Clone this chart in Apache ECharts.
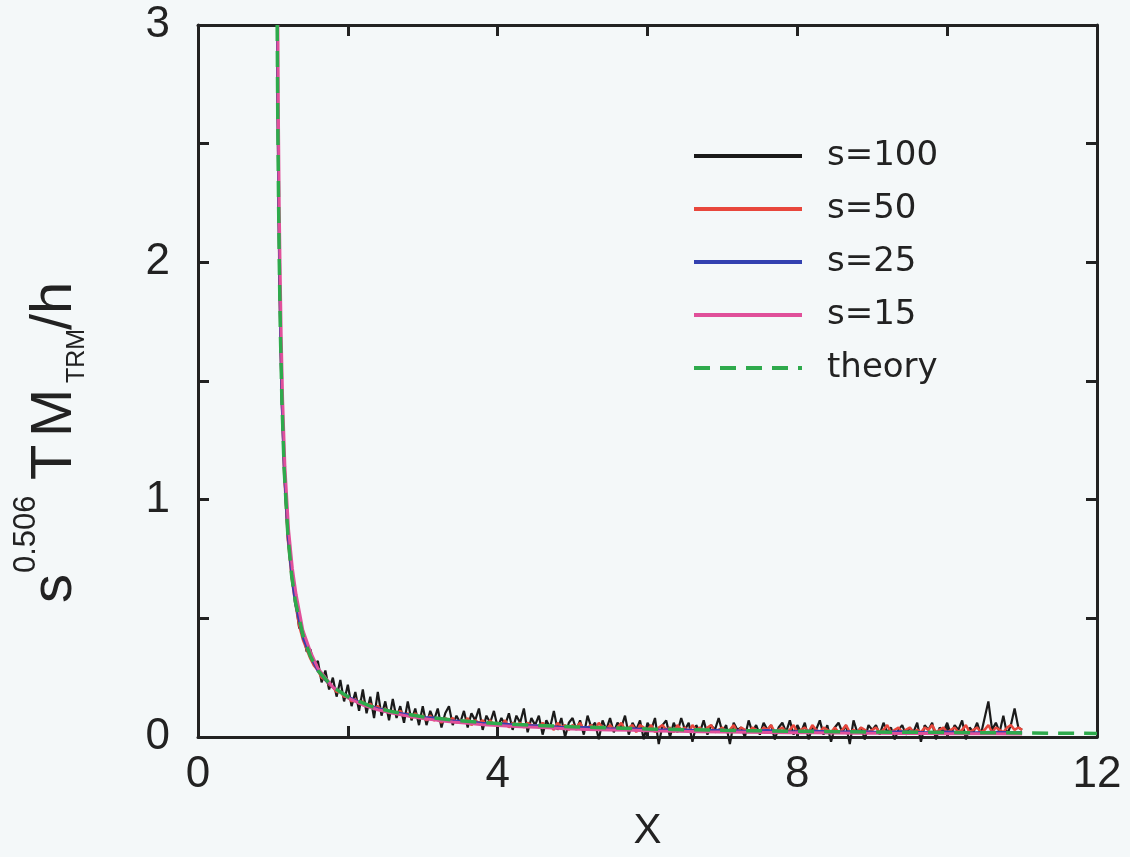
<!DOCTYPE html>
<html>
<head>
<meta charset="utf-8">
<script src="https://cdn.jsdelivr.net/npm/echarts@6/dist/echarts.min.js"></script>
<style>
html,body{margin:0;padding:0;background:#f4f8f9;}
#c{width:1130px;height:857px;}
</style>
</head>
<body>
<div id="c"></div>
<script>
// ---- data ----
const seriesNames = ['s=100', 's=50', 's=25', 's=15', 'theory'];
const xTicks = [0, 4, 8, 12];
const yTicks = [0, 1, 2, 3];

// steep head (shared x for s=100 and s=50)
const headX = [1.057,1.065,1.075,1.085,1.1,1.12,1.15,1.2,1.25,1.3,1.35,1.4,1.45];
const s100Head = [3.0,2.62,2.25,2.0,1.68,1.4,1.12,0.83,0.70,0.58,0.46,0.45,0.36];
const s50Head  = [3.0,2.6,2.28,1.98,1.69,1.41,1.11,0.83,0.67,0.56,0.47,0.41,0.37];

// noisy tail: x = 1.50, 1.55, ..., 11.00
const tailStart = 1.5, tailStep = 0.05;
const s100Tail = [
 0.37,0.30,0.32,0.23,0.28,0.20,0.25,0.17,0.24,0.15,
 0.22,0.13,0.19,0.11,0.20,0.10,0.17,0.08,0.19,0.09,
 0.15,0.07,0.16,0.08,0.13,0.06,0.15,0.07,0.12,0.05,
 0.13,0.05,0.11,0.07,0.12,0.04,0.10,0.13,0.05,0.09,
 0.06,0.11,0.04,0.10,0.07,0.12,0.03,0.09,0.06,0.11,
 0.04,0.08,0.05,0.10,0.03,0.09,0.06,0.12,0.02,0.08,
 0.05,0.09,0.01,0.07,0.04,0.11,0.03,0.08,0.00,0.06,
 0.08,0.03,0.07,0.01,0.09,0.04,0.06,-0.01,0.07,0.03,
 0.08,0.02,0.06,0.04,0.09,0.01,0.06,0.03,0.07,-0.01,
 0.06,0.03,0.08,-0.03,0.05,0.07,0.00,0.06,0.02,0.08,
 0.03,0.06,-0.02,0.05,0.02,0.07,0.01,0.05,0.03,0.08,
 0.02,0.05,-0.03,0.06,0.03,0.04,0.00,0.07,0.02,0.05,
 0.01,0.06,0.03,0.05,-0.01,0.04,0.06,0.02,0.07,0.01,
 0.05,0.02,0.06,-0.01,0.04,0.03,0.07,0.01,0.05,-0.02,
 0.04,0.06,0.02,0.05,-0.03,0.07,0.02,0.04,-0.01,0.05,
 0.03,0.05,0.01,0.06,0.02,0.04,-0.01,0.03,0.05,0.01,
 0.04,0.02,0.06,-0.02,0.05,0.03,0.06,-0.01,0.04,0.02,
 0.06,0.01,0.05,0.03,0.07,-0.01,0.04,0.02,0.06,0.01,
 0.08,0.15,0.03,0.06,0.02,0.09,0.01,0.05,0.12,0.04,
 0.03
];
const s50Tail = [
 0.33,0.30,0.28,0.25,0.24,0.22,0.21,0.19,0.19,0.17,
 0.17,0.15,0.16,0.14,0.15,0.13,0.14,0.12,0.13,0.11,
 0.12,0.10,0.11,0.10,0.11,0.09,0.10,0.08,0.10,0.08,
 0.09,0.07,0.09,0.07,0.08,0.06,0.08,0.07,0.08,0.06,
 0.07,0.06,0.08,0.05,0.07,0.06,0.07,0.05,0.07,0.05,
 0.06,0.05,0.07,0.04,0.06,0.05,0.06,0.04,0.06,0.05,
 0.05,0.04,0.06,0.04,0.05,0.03,0.06,0.04,0.05,0.03,
 0.05,0.04,0.06,0.03,0.04,0.05,0.03,0.06,0.04,0.03,
 0.05,0.03,0.04,0.06,0.03,0.04,0.05,0.02,0.05,0.04,
 0.03,0.05,0.02,0.04,0.05,0.03,0.04,0.02,0.05,0.03,
 0.04,0.02,0.05,0.03,0.04,0.02,0.04,0.05,0.02,0.03,
 0.04,0.02,0.03,0.05,0.02,0.04,0.03,0.02,0.04,0.03,
 0.02,0.04,0.03,0.05,0.02,0.03,0.04,0.02,0.03,0.05,
 0.02,0.03,0.04,0.02,0.05,0.03,0.02,0.04,0.03,0.02,
 0.04,0.02,0.03,0.05,0.02,0.03,0.02,0.04,0.03,0.02,
 0.03,0.04,0.02,0.03,0.05,0.02,0.03,0.04,0.02,0.03,
 0.04,0.02,0.03,0.02,0.04,0.03,0.05,0.02,0.03,0.04,
 0.02,0.03,0.04,0.02,0.03,0.05,0.02,0.03,0.04,0.02,
 0.03,0.05,0.02,0.04,0.03,0.02,0.04,0.05,0.03,0.04,
 0.03
];

const s25X = [1.058,1.066,1.076,1.086,1.1,1.12,1.15,1.2,1.25,1.3,1.4,1.5,1.6,1.7,1.8,1.9,2.0,2.2,2.4,2.6,2.8,3.0,3.2,3.4,3.6,3.8,4.0,4.3,4.6,4.9,5.2,5.5,5.8,6.1,6.4,6.7,7.0,7.3,7.6,7.9,8.2,8.5,8.8,9.1,9.4,9.7,10.0,10.3,10.6,10.9,11.0];
const s25Y = [3.0,2.6,2.25,2.0,1.7,1.41,1.13,0.85,0.68,0.56,0.42,0.34,0.28,0.24,0.21,0.19,0.17,0.14,0.12,0.105,0.095,0.083,0.08,0.068,0.066,0.058,0.058,0.05,0.048,0.04,0.041,0.035,0.036,0.03,0.033,0.027,0.03,0.025,0.028,0.022,0.026,0.021,0.024,0.02,0.023,0.019,0.022,0.018,0.021,0.019,0.02];

const s15X = [1.066,1.074,1.084,1.095,1.11,1.13,1.16,1.21,1.26,1.31,1.4,1.5,1.6,1.7,1.8,1.9,2.0,2.2,2.4,2.6,2.8,3.0,3.2,3.4,3.6,3.8,4.0,4.3,4.6,4.9,5.2,5.5,5.8,6.1,6.4,6.7,7.0,7.3,7.6,7.9,8.2,8.5,8.8,9.1,9.4,9.7,10.0,10.3,10.6,10.9,11.0];
const s15Y = [3.0,2.6,2.25,2.0,1.7,1.42,1.14,0.87,0.71,0.6,0.45,0.36,0.29,0.25,0.21,0.19,0.165,0.135,0.115,0.1,0.088,0.078,0.07,0.063,0.058,0.052,0.048,0.043,0.04,0.035,0.032,0.03,0.028,0.025,0.024,0.022,0.021,0.02,0.019,0.018,0.018,0.017,0.016,0.016,0.015,0.015,0.014,0.014,0.014,0.013,0.013];

const theoryX = [1.057,1.065,1.075,1.085,1.1,1.12,1.15,1.2,1.25,1.3,1.4,1.5,1.6,1.8,2.0,2.3,2.6,3.0,3.5,4.0,4.5,5.0,6.0,7.0,8.0,9.0,10.0,11.0,12.0];
const theoryY = [3.0,2.6,2.27,2.0,1.7,1.42,1.13,0.85,0.68,0.57,0.43,0.34,0.28,0.21,0.17,0.13,0.106,0.085,0.068,0.057,0.049,0.043,0.034,0.028,0.024,0.021,0.019,0.017,0.015];

// ---- build pairs ----
function pairs(xs, ys){ return xs.map((x,i)=>[x, ys[i]]); }
function tailPairs(ys){ return ys.map((y,i)=>[+(tailStart + i*tailStep).toFixed(2), y]); }
const s100 = pairs(headX, s100Head).concat(tailPairs(s100Tail));
const s50  = pairs(headX, s50Head).concat(tailPairs(s50Tail));
const s25  = pairs(s25X, s25Y);
const s15  = pairs(s15X, s15Y);
const theory = pairs(theoryX, theoryY);

const FONT = '"Liberation Sans", Arial, Helvetica, sans-serif';
const LFONT = '"DejaVu Sans", "Liberation Sans", sans-serif';
const INK = '#222';
const colors = ['#1a1a1a', '#e8473c', '#3341b0', '#e0509a', '#2eaa4c'];

function axisCommon(){
  return {
    axisLine: {show: true, onZero: false, lineStyle: {color: INK, width: 3}},
    axisTick: {show: true, inside: true, length: 11, lineStyle: {color: INK, width: 3}},
    splitLine: {show: false}
  };
}

const chart = echarts.init(document.getElementById('c'), null, {renderer: 'canvas'});
chart.setOption({
  backgroundColor: '#f4f8f9',
  animation: false,
  color: colors,
  grid: {left: 198, right: 33, top: 25, bottom: 114},
  legend: {
    orient: 'vertical', left: 692, top: 139, padding: 0,
    itemWidth: 108, itemHeight: 14, itemGap: 19,
    data: seriesNames.map(n => ({name: n, lineStyle: {width: 4}})),
    itemStyle: {opacity: 0},
    lineStyle: {width: 4},
    textStyle: {fontFamily: LFONT, fontSize: 34, color: INK, padding: [0,0,0,20]}
  },
  xAxis: [
    Object.assign({type: 'value', min: 0, max: 12, interval: 2, position: 'bottom',
      name: 'X', nameLocation: 'middle', nameGap: 73,
      nameTextStyle: {fontFamily: FONT, fontSize: 42, color: INK},
      axisLabel: {fontFamily: FONT, fontSize: 44, color: INK, margin: 16,
        formatter: v => xTicks.indexOf(v) >= 0 ? String(v) : ''}}, axisCommon()),
    Object.assign({type: 'value', min: 0, max: 12, interval: 2, position: 'top',
      axisLabel: {show: false}}, axisCommon())
  ],
  yAxis: [
    Object.assign({type: 'value', min: 0, max: 3, interval: 0.5, position: 'left',
      axisLabel: {fontFamily: FONT, fontSize: 44, color: INK, margin: 28,
        formatter: v => yTicks.indexOf(v) >= 0 ? String(v) : ''}}, axisCommon()),
    Object.assign({type: 'value', min: 0, max: 3, interval: 0.5, position: 'right',
      axisLabel: {show: false}}, axisCommon())
  ],
  graphic: [{
    type: 'group', x: 72, y: 603, rotation: Math.PI / 2,
    children: [
      {type: 'text', x: 0, y: -17, style: {text: 's', font: '58px ' + FONT, fill: INK, align: 'left', verticalAlign: 'middle'}},
      {type: 'text', x: 30, y: -46, style: {text: '0.506', font: '31px ' + FONT, fill: INK, align: 'left', verticalAlign: 'middle'}},
      {type: 'text', x: 123, y: -17, style: {text: 'T', font: '58px ' + FONT, fill: INK, align: 'left', verticalAlign: 'middle'}},
      {type: 'text', x: 166, y: -17, style: {text: 'M', font: '58px ' + FONT, fill: INK, align: 'left', verticalAlign: 'middle'}},
      {type: 'text', x: 220, y: 5, style: {text: 'TRM', font: '25px ' + FONT, fill: INK, align: 'left', verticalAlign: 'middle'}},
      {type: 'text', x: 273, y: -17, style: {text: '/h', font: '58px ' + FONT, fill: INK, align: 'left', verticalAlign: 'middle'}}
    ]
  }],
  series: [
    {name: 's=100', type: 'line', data: s100, symbol: 'none', clip: false, z: 2,
      lineStyle: {color: colors[0], width: 2.2}},
    {name: 's=50', type: 'line', data: s50, symbol: 'none', clip: false, z: 3,
      lineStyle: {color: colors[1], width: 2.5}},
    {name: 's=25', type: 'line', data: s25, symbol: 'none', clip: false, z: 4,
      lineStyle: {color: colors[2], width: 2.5}},
    {name: 's=15', type: 'line', data: s15, symbol: 'none', clip: false, z: 5,
      lineStyle: {color: colors[3], width: 3}},
    {name: 'theory', type: 'line', data: theory, symbol: 'none', clip: false, z: 6,
      lineStyle: {color: colors[4], width: 3.5, type: [16, 10]}}
  ]
});
</script>
</body>
</html>
